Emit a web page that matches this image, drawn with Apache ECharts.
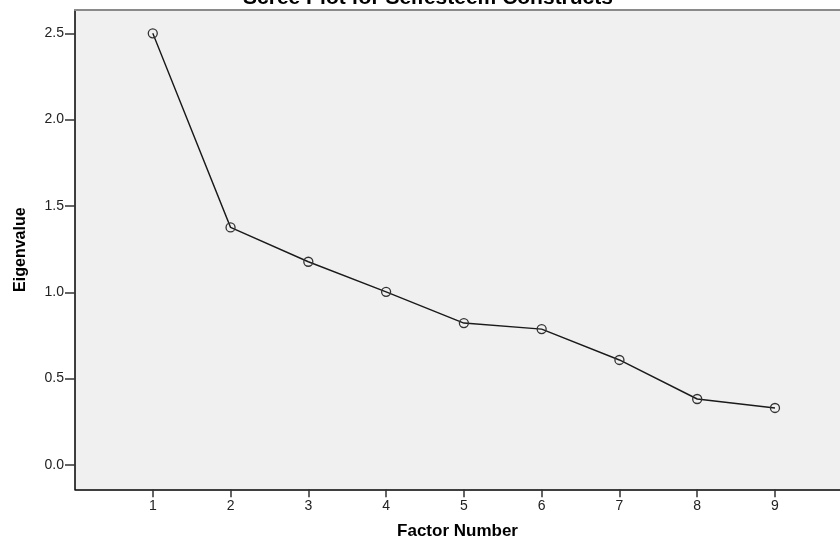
<!DOCTYPE html>
<html>
<head>
<meta charset="utf-8">
<script src="https://cdn.jsdelivr.net/npm/echarts@6/dist/echarts.min.js"></script>
<style>html,body{margin:0;padding:0;background:#fff;}#c{width:840px;height:542px;}</style>
</head>
<body>
<div id="c"></div>
<script>
const titleText = 'Scree Plot for Selfesteem Constructs';
const xName = 'Factor Number';
const yName = 'Eigenvalue';
const factors = [1, 2, 3, 4, 5, 6, 7, 8, 9];
const eigenvalues = [2.50, 1.376, 1.177, 1.003, 0.822, 0.787, 0.608, 0.382, 0.330];
const yTicks = [0, 0.5, 1.0, 1.5, 2.0, 2.5];
const xTicks = [1, 2, 3, 4, 5, 6, 7, 8, 9];

const FONT = 'Liberation Sans, Arial, sans-serif';
const chart = echarts.init(document.getElementById('c'));
chart.setOption({
  animation: false,
  backgroundColor: '#ffffff',
  title: {
    text: titleText, left: 428, top: -12, textAlign: 'center', padding: 0,
    textStyle: {fontFamily: FONT, fontWeight: 'bold', fontSize: 21, lineHeight: 21, color: '#000'}
  },
  grid: {
    left: 75, top: 10, right: 0, height: 479.3,
    outerBoundsMode: 'none', containLabel: false,
    show: true, backgroundColor: '#f0f0f0', borderColor: 'rgba(0,0,0,0)', borderWidth: 0
  },
  xAxis: [{
    type: 'value', min: 0, max: 9.836,
    name: xName, nameLocation: 'middle', nameGap: 34,
    nameTextStyle: {fontFamily: FONT, fontWeight: 'bold', fontSize: 17, color: '#000'},
    axisLine: {show: true, onZero: false, lineStyle: {color: '#000', width: 1.5}},
    axisTick: {show: true, customValues: xTicks, length: 8, lineStyle: {color: '#333', width: 1.5}},
    axisLabel: {customValues: xTicks, margin: 10, fontFamily: FONT, fontSize: 14, color: '#222'},
    splitLine: {show: false}
  }, {
    type: 'value', min: 0, max: 9.836, position: 'top',
    axisLine: {show: true, onZero: false, lineStyle: {color: '#8a8a8a', width: 2}},
    axisTick: {show: false}, axisLabel: {show: false}, splitLine: {show: false}
  }],
  yAxis: {
    type: 'value', min: -0.141, max: 2.635,
    name: yName, nameLocation: 'middle', nameGap: 46, nameRotate: 90,
    nameTextStyle: {fontFamily: FONT, fontWeight: 'bold', fontSize: 16, color: '#000'},
    axisLine: {show: true, onZero: false, lineStyle: {color: '#000', width: 1.5}},
    axisTick: {show: true, customValues: yTicks, length: 10, lineStyle: {color: '#333', width: 1.5}},
    axisLabel: {customValues: yTicks, margin: 11, fontFamily: FONT, fontSize: 14, color: '#222',
      formatter: v => v.toFixed(1)},
    splitLine: {show: false}
  },
  series: [{
    type: 'line',
    xAxisIndex: 0,
    data: factors.map((f, i) => [f, eigenvalues[i]]),
    symbol: 'circle', symbolSize: 9, showSymbol: true,
    lineStyle: {color: '#1a1a1a', width: 1.4},
    itemStyle: {color: 'rgba(0,0,0,0)', borderColor: '#333', borderWidth: 1.3}
  }]
});
</script>
</body>
</html>
